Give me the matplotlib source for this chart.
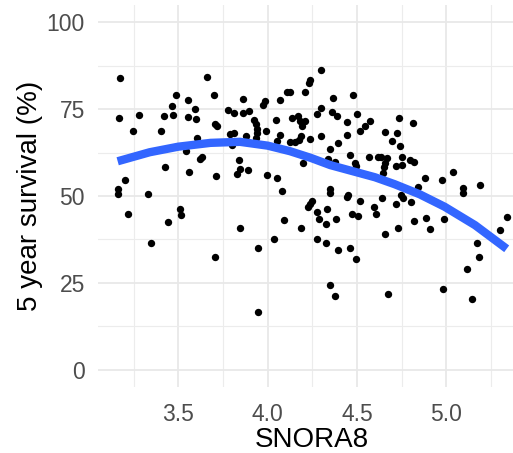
import numpy as np
import matplotlib
matplotlib.use("Agg")
from matplotlib import pyplot as plt
from matplotlib.ticker import MultipleLocator

plt.rcParams['font.family'] = ['Liberation Sans', 'DejaVu Sans']

# expression of SNORA8 vs 5 year survival, one point per sample
snora8 = [3.174, 3.659, 3.487, 3.698, 3.557, 3.465, 3.596, 3.282, 3.169, 3.421,
          3.472, 3.553, 3.597, 3.705, 3.716, 3.779, 3.810, 3.862, 3.862, 3.247,
          3.402, 3.789, 3.810, 3.605, 3.541, 3.799, 3.633, 3.621, 3.837, 3.845,
          3.424, 3.562, 3.711, 3.826, 3.200, 3.164, 3.161, 3.333, 3.220, 3.508,
          3.518, 3.440, 3.844, 3.347, 3.705, 3.893, 3.921, 3.933, 3.938, 3.942,
          3.932, 3.879, 3.891, 3.944, 3.944, 4.298, 4.237, 4.234, 4.106, 4.125,
          4.210, 4.069, 3.985, 3.975, 4.364, 4.477, 4.298, 4.276, 4.358, 4.386,
          4.498, 4.134, 4.171, 4.181, 4.210, 4.190, 4.046, 3.990, 4.445, 4.575,
          4.547, 4.519, 4.069, 4.054, 4.186, 4.175, 4.153, 4.125, 4.237, 4.296,
          4.445, 4.395, 4.346, 4.460, 4.568, 4.619, 4.336, 4.376, 4.196, 4.490,
          4.492, 3.998, 4.052, 4.346, 4.078, 4.346, 4.447, 4.445, 4.516, 4.246,
          4.237, 4.227, 4.274, 4.333, 4.289, 4.324, 4.384, 4.473, 4.505, 4.596,
          4.604, 4.093, 4.185, 4.037, 4.274, 4.326, 4.391, 4.460, 4.496, 4.348,
          4.375, 4.641, 4.736, 4.814, 4.654, 4.723, 4.697, 4.742, 4.634, 4.666,
          4.656, 4.650, 4.749, 4.796, 4.820, 4.716, 4.749, 4.647, 4.880, 4.973,
          5.035, 5.091, 5.094, 5.187, 4.839, 4.718, 4.746, 4.758, 4.801, 4.820,
          4.888, 4.909, 4.988, 4.727, 4.658, 5.337, 5.299, 5.172, 5.182, 5.113,
          4.671, 4.979, 5.144]
survival = [84.1, 84.3, 79.2, 79.0, 77.6, 75.9, 75.0, 73.4, 72.5, 73.0,
            73.2, 72.8, 72.1, 70.6, 70.1, 74.9, 73.9, 78.0, 73.9, 68.6,
            68.7, 67.8, 68.0, 66.8, 63.0, 64.6, 61.2, 60.6, 60.5, 57.9,
            58.3, 57.0, 55.9, 56.3, 54.5, 51.9, 50.7, 50.5, 44.7, 46.2,
            44.4, 42.6, 40.7, 36.4, 32.5, 74.6, 72.0, 70.8, 69.4, 68.0,
            66.6, 67.2, 57.4, 34.9, 16.5, 86.4, 83.5, 82.4, 80.0, 80.0,
            79.9, 77.7, 77.3, 76.2, 78.3, 79.2, 75.3, 73.7, 74.2, 73.0,
            73.7, 72.6, 73.1, 71.6, 71.6, 70.2, 71.8, 68.6, 71.2, 71.6,
            70.1, 68.8, 67.6, 65.7, 67.2, 66.0, 65.5, 65.5, 66.5, 67.2,
            67.5, 65.3, 63.5, 61.7, 61.3, 61.1, 60.6, 59.7, 59.6, 59.4,
            58.6, 56.1, 55.1, 52.1, 51.5, 51.0, 50.4, 49.6, 48.7, 48.6,
            47.8, 46.9, 45.4, 46.2, 43.4, 42.0, 43.4, 44.8, 44.1, 46.7,
            44.7, 43.1, 40.7, 37.6, 37.5, 36.4, 34.4, 34.9, 32.0, 24.4,
            21.3, 49.3, 72.4, 71.0, 68.5, 68.0, 65.9, 64.3, 61.1, 60.8,
            59.6, 58.4, 61.1, 60.3, 59.9, 58.6, 58.9, 56.6, 55.1, 54.5,
            56.8, 52.2, 50.9, 53.2, 52.6, 47.7, 50.2, 49.3, 48.4, 42.9,
            43.6, 40.5, 43.5, 40.7, 39.2, 43.9, 40.3, 36.5, 32.4, 29.0,
            21.8, 23.2, 20.4]

# loess trend line
trend_x = [3.161, 3.34, 3.50, 3.68, 3.845, 4.00, 4.125, 4.24, 4.35, 4.50,
           4.60, 4.71, 4.85, 4.99, 5.16, 5.337]
trend_y = [60.0, 62.6, 64.2, 65.3, 65.6, 64.5, 62.9, 61.0, 58.9, 56.8,
           55.4, 53.4, 50.5, 46.9, 41.6, 34.8]

xticks = [3.5, 4.0, 4.5, 5.0]
yticks = [0, 25, 50, 75, 100]

W, H = 513, 453
fig = plt.figure(figsize=(W / 100, H / 100), dpi=100)
# panel runs a little past the right edge of the figure
ax = fig.add_axes([98 / W, (H - 387) / H, (526 - 98) / W, (387 - 5) / H])

ax.set_xlim(3.051, 5.445)
ax.set_ylim(-5, 105)
ax.set_xticks(xticks)
ax.set_xticklabels([f"{t:.1f}" for t in xticks])
ax.set_yticks(yticks)
ax.xaxis.set_minor_locator(MultipleLocator(0.25))
ax.yaxis.set_minor_locator(MultipleLocator(12.5))

ax.grid(True, which='major', color='#E8E8E8', linewidth=1.3)
ax.grid(True, which='minor', color='#ECECEC', linewidth=0.8)
ax.set_axisbelow(True)
for s in ax.spines.values():
    s.set_visible(False)
ax.tick_params(which='both', length=0)
ax.tick_params(axis='x', pad=11.5, labelsize=16.5, labelcolor='#4D4D4D')
ax.tick_params(axis='y', pad=9.4, labelsize=16.5, labelcolor='#4D4D4D')

ax.plot(snora8, survival, 'o', color='black', markersize=5.3,
        markeredgewidth=0, zorder=2)
ax.plot(trend_x, trend_y, color='#3366FF', linewidth=6,
        solid_capstyle='butt', solid_joinstyle='round', zorder=3)

fig.text(312 / W, 1 - 440 / H, 'SNORA8', ha='center', va='center',
         fontsize=20, color='black')
fig.text(30 / W, 1 - 196 / H, '5 year survival (%)', ha='center',
         va='center', rotation=90, fontsize=20, color='black')

fig.savefig('out.png', dpi=100)
